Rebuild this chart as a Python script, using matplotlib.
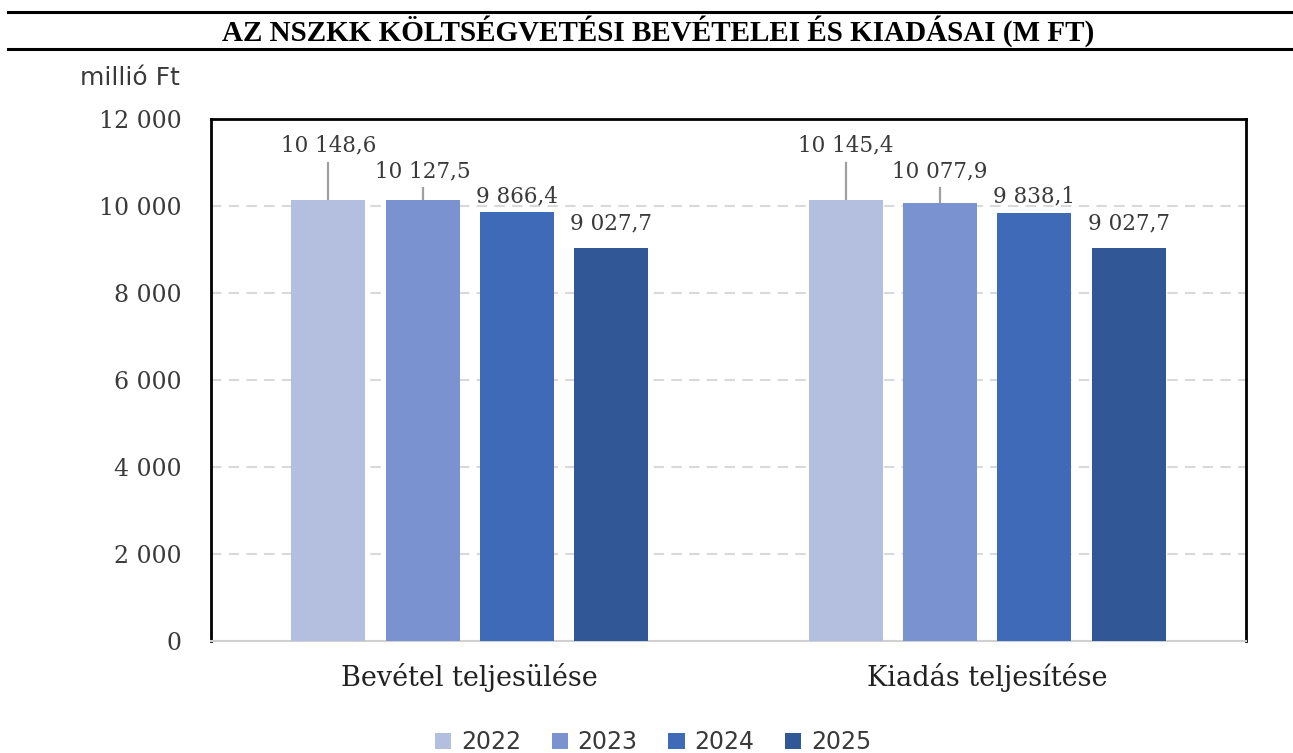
import matplotlib
matplotlib.use("Agg")
import matplotlib.pyplot as plt
from matplotlib.patches import Patch
from matplotlib.lines import Line2D
import numpy as np

categories = ["Bevétel teljesülése", "Kiadás teljesítése"]
years = ["2022", "2023", "2024", "2025"]
values = {
    "2022": [10148.6, 10145.4],
    "2023": [10127.5, 10077.9],
    "2024": [9866.4, 9838.1],
    "2025": [9027.7, 9027.7],
}
value_labels = {
    "2022": ["10 148,6", "10 145,4"],
    "2023": ["10 127,5", "10 077,9"],
    "2024": ["9 866,4", "9 838,1"],
    "2025": ["9 027,7", "9 027,7"],
}
yticks = [0, 2000, 4000, 6000, 8000, 10000, 12000]
ytick_labels = ["0", "2 000", "4 000", "6 000", "8 000", "10 000", "12 000"]

colors = ["#B4BFDF", "#7A92CF", "#3F6AB8", "#325797"]
label_heights = [11400, 10805, 10230, 9590]  # label anchor heights (style)

serif = ["DejaVu Serif"]
sans = ["DejaVu Sans"]
txt = "#3A3A3A"

fig = plt.figure(figsize=(12.93, 7.53), dpi=100)
ax = fig.add_axes([211/1293, (753-641)/753, (1246-211)/1293, (641-119)/753])

x = np.arange(len(categories))
width = 0.143
step = 0.182
for i, yr in enumerate(years):
    pos = x + (i - 1.5) * step
    ax.bar(pos, values[yr], width=width, color=colors[i], zorder=3)
    for j, p in enumerate(pos):
        ly = label_heights[i]
        ax.text(p, ly, value_labels[yr][j], ha="center", va="center",
                fontsize=15.5, family=serif, color=txt, zorder=4)
        top = values[yr][j]
        end = ly - 400
        if end - top > 250:
            ax.plot([p, p], [top, end], color="#A0A0A0", lw=1.6, zorder=2)

ax.set_xlim(-0.5, 1.5)
ax.set_ylim(0, 12000)
ax.set_yticks(yticks)
ax.set_yticklabels(ytick_labels, family=serif, fontsize=17, color=txt)
ax.set_xticks(x)
ax.set_xticklabels(categories, family=serif, fontsize=19.5, color="#222222")
ax.tick_params(axis="both", length=0)
ax.tick_params(axis="y", pad=21)
ax.tick_params(axis="x", pad=16)
for yv in yticks[1:-1]:
    ax.axhline(yv, color="#D9D9D9", lw=1.5, dashes=(5, 3.5), zorder=1)

for s in ["left", "top", "right"]:
    ax.spines[s].set_color("black")
    ax.spines[s].set_linewidth(2)
ax.spines["bottom"].set_color("#D0D0D0")
ax.spines["bottom"].set_linewidth(1.5)

fig.text(80/1293, 1 - 78/753, "millió Ft", family=sans, fontsize=18,
         color=txt, va="center", ha="left")

# title with rules
fig.add_artist(Line2D([8/1293, 1], [1 - 12/753, 1 - 12/753], color="black", lw=2.2))
fig.add_artist(Line2D([8/1293, 1], [1 - 49/753, 1 - 49/753], color="black", lw=2.2))
fig.text(658/1293, 1 - 31/753, "AZ NSZKK KÖLTSÉGVETÉSI BEVÉTELEI ÉS KIADÁSAI (M FT)",
         family=["Liberation Serif"], fontweight="bold", fontsize=21,
         ha="center", va="center")

handles = [Patch(facecolor=c, edgecolor="none") for c in colors]
fig.legend(handles, years, loc="lower center", bbox_to_anchor=(0.505, -0.03),
           ncol=4, frameon=False, prop={"family": sans, "size": 17},
           handlelength=0.7, handleheight=0.7, handletextpad=0.4, columnspacing=1.3,
           labelcolor=txt)

fig.savefig("out.png", dpi=100)
